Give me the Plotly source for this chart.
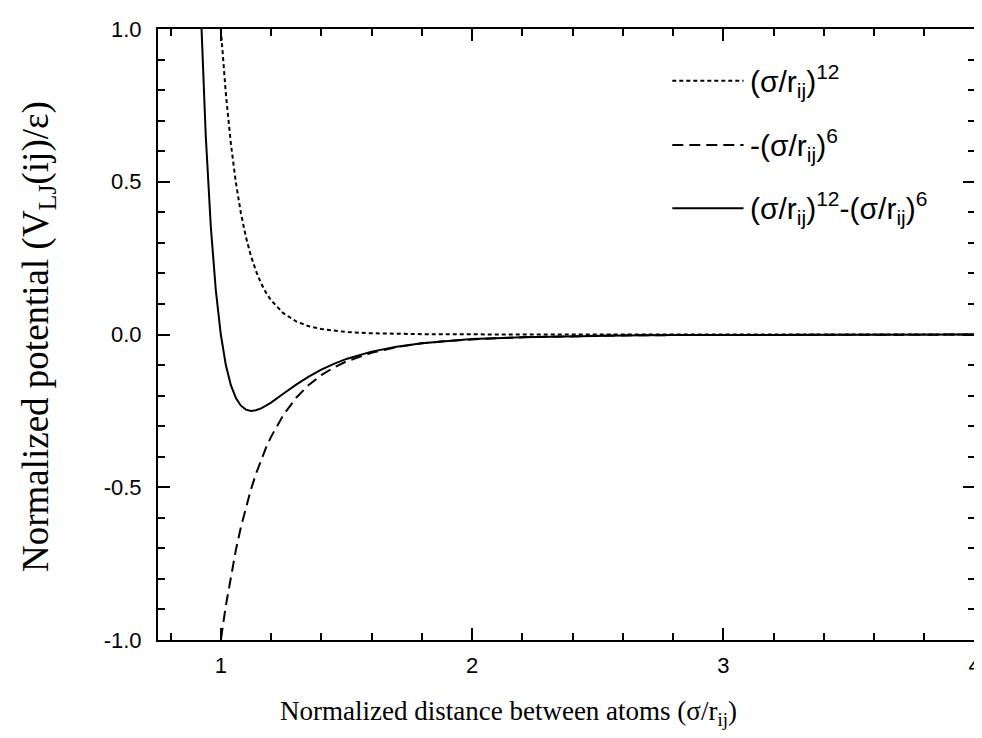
import plotly.graph_objects as go

# Normalized distance (x) values
x_vals = [0.90, 0.92, 0.94, 0.96, 0.98, 1.00, 1.02, 1.04, 1.06, 1.08, 1.10, 1.12,
          1.14, 1.16, 1.18, 1.20, 1.25, 1.30, 1.35, 1.40, 1.45, 1.50, 1.60, 1.70,
          1.80, 1.90, 2.00, 2.20, 2.40, 2.60, 2.80, 3.00, 3.25, 3.50, 3.75, 4.00]

# (sigma/r)^12 (dotted)
rep_vals = [3.541, 2.719, 2.101, 1.632, 1.274, 1.000, 0.789, 0.625, 0.497, 0.397,
            0.319, 0.257, 0.208, 0.168, 0.137, 0.112, 0.069, 0.043, 0.027, 0.018,
            0.012, 0.008, 0.004, 0.002, 0.001, 0.0005, 0.0002, 0.0001, 0.0, 0.0,
            0.0, 0.0, 0.0, 0.0, 0.0, 0.0]

# -(sigma/r)^6 (dashed)
att_vals = [-1.882, -1.649, -1.450, -1.278, -1.129, -1.000, -0.888, -0.790, -0.705,
            -0.630, -0.565, -0.507, -0.456, -0.410, -0.370, -0.335, -0.262, -0.207,
            -0.165, -0.133, -0.108, -0.088, -0.060, -0.041, -0.029, -0.021, -0.016,
            -0.009, -0.005, -0.003, -0.002, -0.0014, -0.0008, -0.0005, -0.0004,
            -0.0002]

# (sigma/r)^12 - (sigma/r)^6 (solid)
lj_vals = [1.659, 1.070, 0.652, 0.355, 0.146, 0.000, -0.100, -0.166, -0.208,
           -0.233, -0.246, -0.250, -0.248, -0.242, -0.233, -0.223, -0.193, -0.164,
           -0.138, -0.115, -0.096, -0.080, -0.056, -0.040, -0.029, -0.021, -0.015,
           -0.009, -0.005, -0.003, -0.002, -0.0014, -0.0008, -0.0005, -0.0004,
           -0.0002]

series_names = ["(σ/r<sub>ij</sub>)<sup>12</sup>",
                "-(σ/r<sub>ij</sub>)<sup>6</sup>",
                "(σ/r<sub>ij</sub>)<sup>12</sup>-(σ/r<sub>ij</sub>)<sup>6</sup>"]
series_values = [rep_vals, att_vals, lj_vals]
series_dash = ["4px,3px", "11px,6px", "solid"]

x_range = [0.75, 4.002]
y_range = [-1, 1]
x_tick_vals = [1, 2, 3, 4]
x_tick_text = ["1", "2", "3", "4"]
y_tick_vals = [-1.0, -0.5, 0.0, 0.5, 1.0]
y_tick_text = ["-1.0", "-0.5", "0.0", "0.5", "1.0"]

fig = go.Figure()
for name, vals, dash in zip(series_names, series_values, series_dash):
    fig.add_trace(go.Scatter(x=x_vals, y=vals, mode="lines", name=name,
                             line=dict(color="black", width=2, dash=dash),
                             showlegend=False))

# manual legend
leg_y = [0.9155, 0.810, 0.7065]
for name, dash, ly in zip(series_names, series_dash, leg_y):
    fig.add_shape(type="line", xref="paper", yref="paper",
                  x0=0.6295, x1=0.7167, y0=ly, y1=ly,
                  line=dict(color="black", width=2, dash=dash))
    fig.add_annotation(xref="paper", yref="paper", x=0.722, y=ly,
                       xanchor="left", yanchor="middle", showarrow=False,
                       text=name,
                       font=dict(family="Liberation Sans, Arial", size=30, color="black"))

# axis titles
fig.add_annotation(xref="paper", yref="paper", x=0.4286, y=-0.119,
                   xanchor="center", yanchor="middle", showarrow=False,
                   text="Normalized distance between atoms (σ/r<sub>ij</sub>)",
                   font=dict(family="Liberation Serif, Times New Roman", size=27, color="black"))
fig.add_annotation(xref="paper", yref="paper", x=-0.146, y=0.497,
                   xanchor="center", yanchor="middle", showarrow=False, textangle=-90,
                   text="Normalized potential (V<sub>LJ</sub>(ij)/ε)",
                   font=dict(family="Liberation Serif, Times New Roman", size=37, color="black"))

tick_style = dict(ticks="inside", ticklen=12, tickwidth=2, tickcolor="black",
                  showgrid=False, zeroline=False)
tick_font = dict(family="Liberation Sans, Arial", size=22, color="black")
x_minor = dict(ticks="inside", ticklen=7, tickwidth=2, tickcolor="black",
               dtick=0.2, tick0=0, showgrid=False)
y_minor = dict(ticks="inside", ticklen=7, tickwidth=2, tickcolor="black",
               dtick=0.1, tick0=0, showgrid=False)

fig.update_layout(
    width=982, height=738, autosize=False,
    margin=dict(l=150, r=9, t=16, b=106),
    plot_bgcolor="white", paper_bgcolor="white",
    showlegend=False,
    xaxis=dict(range=x_range, tickmode="array", tickvals=x_tick_vals,
               ticktext=x_tick_text, ticklabelstandoff=5, tickfont=tick_font,
               ticklabeloverflow="allow",
               showline=True, linecolor="black", linewidth=2, mirror="ticks",
               minor=x_minor, **tick_style),
    yaxis=dict(range=y_range, tickmode="array", tickvals=y_tick_vals,
               ticktext=y_tick_text, ticklabelstandoff=10, tickfont=tick_font,
               showline=True, linecolor="black", linewidth=2, mirror="ticks",
               minor=y_minor, **tick_style),
)

fig.write_html("out.html")
